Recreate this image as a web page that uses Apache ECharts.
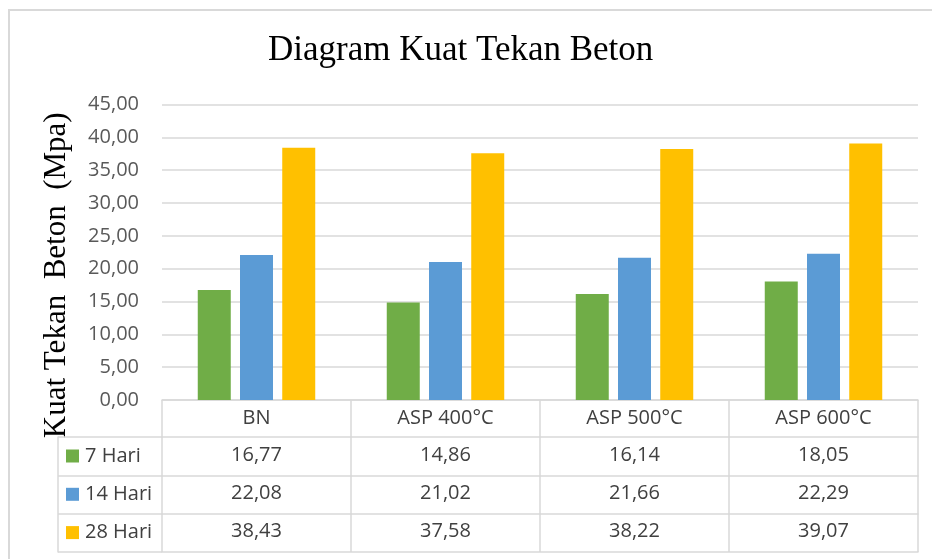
<!DOCTYPE html>
<html>
<head>
<meta charset="utf-8">
<title>Diagram Kuat Tekan Beton</title>
<script src="https://cdn.jsdelivr.net/npm/echarts@6/dist/echarts.min.js"></script>
<style>
  html, body { margin: 0; padding: 0; background: #fff; }
  .frame { position: absolute; left: 8px; top: 9px; width: 1000px; height: 600px;
    border-left: 2px solid #d9d9d9; border-top: 2px solid #d9d9d9; }
  #chart { position: absolute; left: 0; top: 0; width: 932px; height: 559px; }
</style>
</head>
<body>
<div class="frame"></div>
<div id="chart"></div>
<script>
  // data
  var categories = ['BN', 'ASP 400°C', 'ASP 500°C', 'ASP 600°C'];
  var seriesNames = ['7 Hari', '14 Hari', '28 Hari'];
  var hari7 = [16.77, 14.86, 16.14, 18.05];
  var hari14 = [22.08, 21.02, 21.66, 22.29];
  var hari28 = [38.43, 37.58, 38.22, 39.07];
  var colors = ['#70AD47', '#5B9BD5', '#FFC000'];

  var fmt = function (v) {
    return Number(v).toFixed(2).replace('.', ',');
  };

  var lineColor = '#d9d9d9';
  var tableFont = {fontFamily: 'Open Sans', fontSize: 20, color: '#404040'};
  // row offsets of the data table under the plot
  var rowOffsets = [0, 37, 75.3, 113.7, 152];
  var rowData = [null, hari7, hari14, hari28, null];

  var tableAxes = rowOffsets.map(function (off, k) {
    var last = k === rowOffsets.length - 1;
    return {
      type: 'category',
      gridIndex: 0,
      position: 'bottom',
      offset: off,
      data: categories,
      axisLine: {show: true, lineStyle: {color: lineColor, width: 1.5}},
      axisTick: {
        show: !last,
        inside: false,
        length: last ? 0 : rowOffsets[k + 1] - off,
        lineStyle: {color: lineColor, width: 1.5}
      },
      axisLabel: {
        show: !last,
        interval: 0,
        margin: 8,
        fontFamily: tableFont.fontFamily,
        fontSize: tableFont.fontSize,
        color: tableFont.color,
        formatter: function (val, idx) {
          if (k === 0) return val;
          return fmt(rowData[k][idx]);
        }
      },
      splitLine: {show: false}
    };
  });

  // left column of the table (legend keys)
  tableAxes.push({
    type: 'value',
    gridIndex: 1,
    show: false
  });

  var option = {
    animation: false,
    title: {
      text: 'Diagram Kuat Tekan Beton',
      left: 268,
      top: 33,
      padding: 0,
      textStyle: {
        fontFamily: 'Liberation Serif',
        fontSize: 35,
        fontWeight: 'normal',
        color: '#000'
      }
    },
    legend: {
      orient: 'vertical',
      left: 66,
      top: 446,
      padding: 0,
      itemWidth: 13,
      itemHeight: 13,
      itemGap: 18.3,
      icon: 'rect',
      data: seriesNames,
      textStyle: {
        fontFamily: 'Open Sans',
        fontSize: 20,
        lineHeight: 20,
        color: '#404040',
        padding: [0, 0, 0, 1]
      }
    },
    grid: [
      {left: 162, right: 14, top: 104.5, bottom: 159, outerBoundsMode: 'none', containLabel: false},
      {left: 58, width: 104, top: 437, height: 115, outerBoundsMode: 'none', containLabel: false}
    ],
    xAxis: tableAxes,
    yAxis: [
      {
        type: 'value',
        gridIndex: 0,
        min: 0,
        max: 45,
        interval: 5,
        name: 'Kuat Tekan  Beton  (Mpa)',
        nameLocation: 'middle',
        nameGap: 90,
        nameTextStyle: {
          fontFamily: 'Liberation Serif',
          fontSize: 31,
          color: '#000',
          padding: [0, 46, 0, 0]
        },
        axisLine: {show: false},
        axisTick: {show: false},
        axisLabel: {
          margin: 23,
          fontFamily: 'Open Sans',
          fontSize: 20,
          color: '#595959',
          formatter: fmt
        },
        splitLine: {lineStyle: {color: lineColor, width: 1.5}}
      },
      {
        type: 'category',
        gridIndex: 1,
        inverse: true,
        data: seriesNames,
        axisLine: {show: true, lineStyle: {color: lineColor, width: 1.5}},
        axisTick: {show: true, inside: true, length: 104, lineStyle: {color: lineColor, width: 1.5}},
        axisLabel: {show: false},
        splitLine: {show: false}
      }
    ],
    series: [
      {name: seriesNames[0], type: 'bar', xAxisIndex: 0, yAxisIndex: 0, data: hari7},
      {name: seriesNames[1], type: 'bar', xAxisIndex: 0, yAxisIndex: 0, data: hari14},
      {name: seriesNames[2], type: 'bar', xAxisIndex: 0, yAxisIndex: 0, data: hari28}
    ].map(function (s, i) {
      s.barWidth = 33;
      s.barGap = '28%';
      s.itemStyle = {color: colors[i]};
      return s;
    })
  };

  var chart = echarts.init(document.getElementById('chart'), null, {renderer: 'canvas'});
  chart.setOption(option);
</script>
</body>
</html>
